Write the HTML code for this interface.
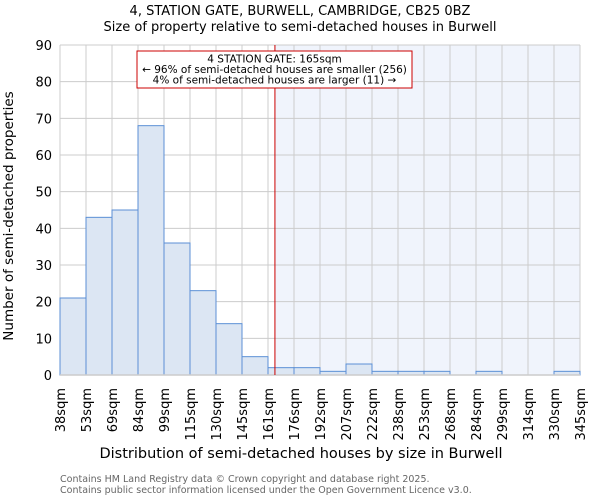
<!DOCTYPE html>
<html><head><meta charset="utf-8"><style>
body{margin:0;background:#fff;font-family:"DejaVu Sans","Liberation Sans",sans-serif}
svg text{font-family:"DejaVu Sans","Liberation Sans",sans-serif}
</style></head><body>
<svg id="chart" width="600" height="500" xmlns="http://www.w3.org/2000/svg">
<text x="300" y="15" font-size="13" text-anchor="middle">4, STATION GATE, BURWELL, CAMBRIDGE, CB25 0BZ</text>
<text x="300" y="31" font-size="13" text-anchor="middle">Size of property relative to semi-detached houses in Burwell</text>
<g id="grid"></g><g id="bars"></g><g id="axes"></g>
<text transform="translate(13,216) rotate(-90)" font-size="13.5" text-anchor="middle">Number of semi-detached properties</text>
<text x="301" y="458" font-size="14.5" text-anchor="middle">Distribution of semi-detached houses by size in Burwell</text>
<text x="60" y="482" font-size="9.5" fill="#666">Contains HM Land Registry data © Crown copyright and database right 2025.</text>
<text x="60" y="493" font-size="9.5" fill="#666">Contains public sector information licensed under the Open Government Licence v3.0.</text>
</svg>
<script>
const binEdges=["38sqm","53sqm","69sqm","84sqm","99sqm","115sqm","130sqm","145sqm","161sqm","176sqm","192sqm","207sqm","222sqm","238sqm","253sqm","268sqm","284sqm","299sqm","314sqm","330sqm","345sqm"];
const counts=[21,43,45,68,36,23,14,5,2,2,1,3,1,1,1,0,1,0,0,1];
const yTicks=[0,10,20,30,40,50,60,70,80,90];
const edgeValues=[38,53,69,84,99,115,130,145,161,176,192,207,222,238,253,268,284,299,314,330,345];
const propertySize=165;
const X0=60,X1=580,Y0=375,Y1=45,yMax=90;
const NS="http://www.w3.org/2000/svg";
const bw=(X1-X0)/counts.length;
const xi=i=>X0+i*bw;
const y=v=>Y0-(v/yMax)*(Y0-Y1);
function xv(v){for(let i=0;i<edgeValues.length-1;i++){if(v<=edgeValues[i+1]){return xi(i)+(v-edgeValues[i])/(edgeValues[i+1]-edgeValues[i])*bw;}}return X1;}
function mk(tag,attrs,parent){const e=document.createElementNS(NS,tag);for(const k in attrs)e.setAttribute(k,attrs[k]);parent.appendChild(e);return e;}
const grid=document.getElementById('grid'),bars=document.getElementById('bars'),axes=document.getElementById('axes');
const px=xv(propertySize);
const sh=mk('rect',{x:px,y:Y1,width:X1-px,height:Y0-Y1,fill:'#f0f4fc'},grid);


yTicks.forEach(t=>{
 const l=mk('line',{x1:X0,x2:X1,y1:y(t),y2:y(t),stroke:'#ccc','stroke-width':1},grid);
 
 
 const tx=mk('text',{x:X0-8,y:y(t)+5,'font-size':13,'text-anchor':'end'},axes);
 tx.textContent=t;
 
 
});
binEdges.forEach((lab,i)=>{
 const l=mk('line',{x1:xi(i),x2:xi(i),y1:Y1,y2:Y0,stroke:'#ccc','stroke-width':1},grid);
 
 
 const tx=mk('text',{transform:`translate(${xi(i)+5},388) rotate(-90)`,'font-size':13,'text-anchor':'end'},axes);
 tx.textContent=lab;
 
 
});
counts.forEach((c,i)=>{
 if(c<=0)return;
 const r=mk('rect',{x:xi(i),y:y(c),width:bw,height:Y0-y(c),fill:'#dce6f3',stroke:'#5b8fd6','stroke-width':1},bars);
 
 
});
const ax=mk('line',{x1:X0,x2:X1,y1:Y0,y2:Y0,stroke:'#ccc','stroke-width':1.5},axes);


const ml=mk('line',{x1:px,x2:px,y1:Y1,y2:Y0,stroke:'#c00','stroke-width':1},axes);


const box=mk('rect',{x:137,y:51,width:275,height:37,fill:'#fff',stroke:'#c00','stroke-width':1},axes);


["4 STATION GATE: 165sqm","← 96% of semi-detached houses are smaller (256)","4% of semi-detached houses are larger (11) →"].forEach((s,i)=>{
 const t=mk('text',{x:274.5,y:62.5+i*10.5,'font-size':10.5,'text-anchor':'middle'},axes);
 t.textContent=s;
 
 
});
</script>
</body></html>
